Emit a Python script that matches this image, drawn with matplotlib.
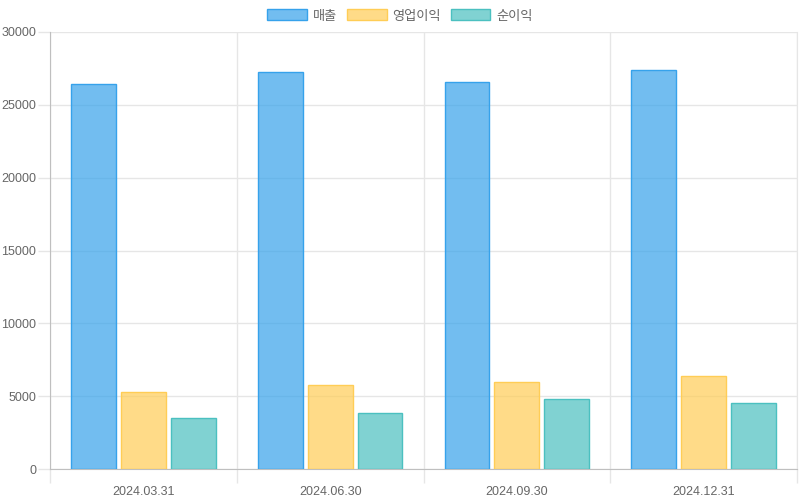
import matplotlib
matplotlib.use("Agg")
import matplotlib.pyplot as plt
import numpy as np
from matplotlib.patches import Patch

plt.rcParams['font.family'] = ['Liberation Sans', 'Noto Sans CJK KR', 'DejaVu Sans']

quarters = ['2024.03.31', '2024.06.30', '2024.09.30', '2024.12.31']
series_names = ['매출', '영업이익', '순이익']
sales = [26400, 27230, 26570, 27390]
op_profit = [5310, 5740, 5990, 6400]
net_profit = [3500, 3820, 4780, 4530]

edge_colors = [(54/255, 162/255, 235/255), (255/255, 205/255, 86/255), (75/255, 192/255, 192/255)]
face_colors = [c + (0.7,) for c in edge_colors]

fig = plt.figure(figsize=(8, 5), dpi=100)
ax = fig.add_axes([50/800, 1 - 469/500, 747/800, 437/500])

x = np.arange(len(quarters))
group = 0.8
slot = group / 3
width = slot * 0.9
for i, vals in enumerate([sales, op_profit, net_profit]):
    ax.bar(x + (i - 1) * slot, vals, width=width, color=face_colors[i],
           edgecolor=edge_colors[i], linewidth=1, zorder=3)

ax.set_xlim(-0.5, len(quarters) - 0.5)
ax.set_ylim(0, 30000)
ax.set_yticks(np.arange(0, 30001, 5000))

grid_c = '#e6e6e6'
axis_c = '#bfbfbf'
ax.set_xticks(x)
ax.set_xticklabels(quarters)
ax.set_xticks(np.arange(-0.5, len(quarters)), minor=True)
ax.tick_params(axis='x', which='major', length=0, pad=12, labelsize=9, labelcolor='#666666')
ax.tick_params(axis='x', which='minor', length=10, color=grid_c, width=1)
ax.tick_params(axis='y', length=9, color=grid_c, width=1, pad=1, labelsize=9, labelcolor='#666666')
ax.grid(axis='x', which='minor', color=grid_c, linewidth=1, alpha=1, zorder=0)
ax.grid(axis='y', which='major', color=grid_c, linewidth=1, alpha=1, zorder=0)
ax.set_axisbelow(True)

ax.spines['top'].set_visible(False)
ax.spines['right'].set_color(grid_c)
ax.spines['left'].set_color(axis_c)
ax.spines['bottom'].set_color(axis_c)

handles = [Patch(facecolor=face_colors[i], edgecolor=edge_colors[i], linewidth=1)
           for i in range(3)]
fig.legend(handles, series_names, loc='center', bbox_to_anchor=(0.5, 1 - 16/500),
           ncol=3, frameon=False, handlelength=3.0, handleheight=0.9,
           handletextpad=0.45, columnspacing=0.75, fontsize=9.5, labelcolor='#666666')

fig.savefig('out.png', dpi=100)
